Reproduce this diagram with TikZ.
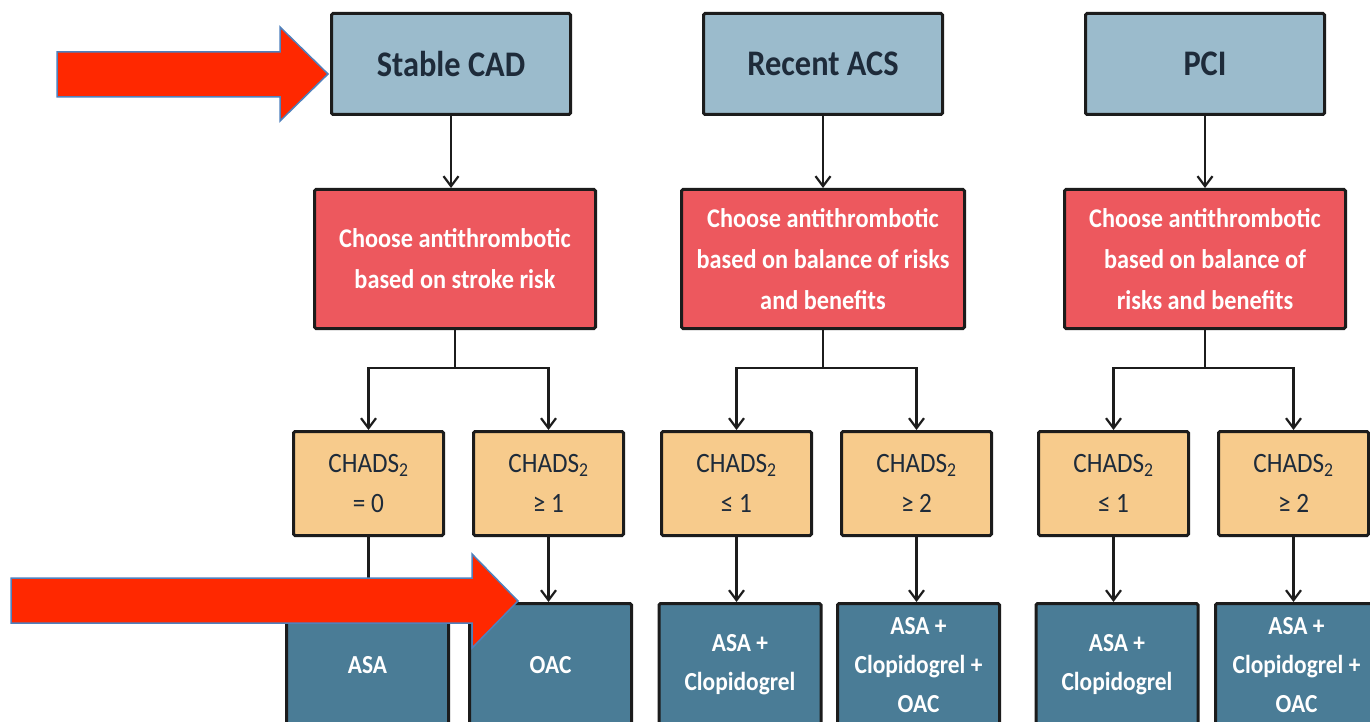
\documentclass[tikz,border=0pt]{standalone}
\usepackage{fontspec}
\setmainfont{Carlito}[FakeStretch=0.9]
\usetikzlibrary{arrows.meta}
\definecolor{topblue}{HTML}{9BBBCC}
\definecolor{redbox}{HTML}{ED585E}
\definecolor{yelbox}{HTML}{F7CB8C}
\definecolor{tealbox}{HTML}{4A7C96}
\definecolor{boxline}{HTML}{1C1C1C}
\definecolor{darktext}{HTML}{1E2B3A}
\definecolor{arrowred}{HTML}{FF2800}
\definecolor{arrowedge}{HTML}{4F81BD}
\begin{document}
\begin{tikzpicture}[x=1pt,y=-1pt,
  box/.style={draw=boxline, line width=3pt, rounded corners=1.5pt, align=center, inner sep=0pt},
  topbox/.style={box, fill=topblue, minimum width=239pt, minimum height=101pt,
    font=\bfseries\fontsize{36}{40}\selectfont, text=darktext},
  redb/.style={box, fill=redbox, minimum width=281pt, minimum height=139pt,
    font=\bfseries\fontsize{27}{41}\selectfont, text=white},
  yelb/.style={box, fill=yelbox, minimum width=150pt, minimum height=104pt,
    font=\fontsize{28}{40}\selectfont, text=darktext},
  tealb/.style={box, fill=tealbox, minimum width=162pt, minimum height=123pt,
    font=\bfseries\fontsize{26}{39}\selectfont, text=white},
  conn/.style={line width=2.2pt, draw=boxline},
  arr/.style={conn, -{Straight Barb[length=10pt,width=15pt]}},
  bigarrow/.style={fill=arrowred, draw=arrowedge, line width=1.5pt, line join=miter}
]
\useasboundingbox (0,0) rectangle (1370,722);
\clip (0,0) rectangle (1370,722);
\fill[white] (0,0) rectangle (1370,722);

% top row
\node[topbox] (t1) at (451,64) {Stable CAD};
\node[topbox] (t2) at (823,64) {Recent ACS};
\node[topbox] (t3) at (1205,64) {PCI};

% red row
\node[redb] (r1) at (455,259) {Choose antithrombotic\\based on stroke risk};
\node[redb, minimum width=283pt] (r2) at (823,259) {Choose antithrombotic\\based on balance of risks\\and benefits};
\node[redb] (r3) at (1205,259) {Choose antithrombotic\\based on balance of\\risks and benefits};

% yellow row
\node[yelb] (y1) at (368.5,483.5) {CHADS\textsubscript{2}\\= 0};
\node[yelb] (y2) at (548.5,483.5) {CHADS\textsubscript{2}\\≥ 1};
\node[yelb] (y3) at (736.5,483.5) {CHADS\textsubscript{2}\\≤ 1};
\node[yelb] (y4) at (916.5,483.5) {CHADS\textsubscript{2}\\≥ 2};
\node[yelb] (y5) at (1113.5,483.5) {CHADS\textsubscript{2}\\≤ 1};
\node[yelb] (y6) at (1293.5,483.5) {CHADS\textsubscript{2}\\≥ 2};

% teal row
\node[tealb] (b1) at (367.5,665) {ASA};
\node[tealb] (b2) at (550.5,665) {OAC};
\node[tealb] (b3) at (740,665) {ASA +\\Clopidogrel};
\node[tealb] (b4) at (918.5,665) {ASA +\\Clopidogrel +\\OAC};
\node[tealb] (b5) at (1117,665) {ASA +\\Clopidogrel};
\node[tealb] (b6) at (1296.5,665) {ASA +\\Clopidogrel +\\OAC};

% connectors top -> red
\draw[arr] (t1.south) -- (t1.south |- r1.north);
\draw[arr] (t2.south) -- (t2.south |- r2.north);
\draw[arr] (t3.south) -- (t3.south |- r3.north);

% branch level
\coordinate (lvl) at (0,368);
\coordinate (k1) at (r1.south |- lvl);
\coordinate (k2) at (r2.south |- lvl);
\coordinate (k3) at (r3.south |- lvl);
\draw[conn] (r1.south) -- (k1);
\draw[conn] (r2.south) -- (k2);
\draw[conn] (r3.south) -- (k3);
\draw[arr] (k1) -| (y1.north);
\draw[arr] (k1) -| (y2.north);
\draw[arr] (k2) -| (y3.north);
\draw[arr] (k2) -| (y4.north);
\draw[arr] (k3) -| (y5.north);
\draw[arr] (k3) -| (y6.north);

% yellow -> teal
\draw[arr] (y1.south) -- (y1.south |- b1.north);
\draw[arr] (y2.south) -- (y2.south |- b2.north);
\draw[arr] (y3.south) -- (y3.south |- b3.north);
\draw[arr] (y4.south) -- (y4.south |- b4.north);
\draw[arr] (y5.south) -- (y5.south |- b5.north);
\draw[arr] (y6.south) -- (y6.south |- b6.north);

% big red annotation arrows
\draw[bigarrow] (57,52) -- (280,52) -- (280,27) -- (328,74) -- (280,121) -- (280,97) -- (57,97) -- cycle;
\draw[bigarrow] (11,578) -- (472,578) -- (472,554) -- (518,601) -- (472,648) -- (472,623) -- (11,623) -- cycle;
\end{tikzpicture}
\end{document}
